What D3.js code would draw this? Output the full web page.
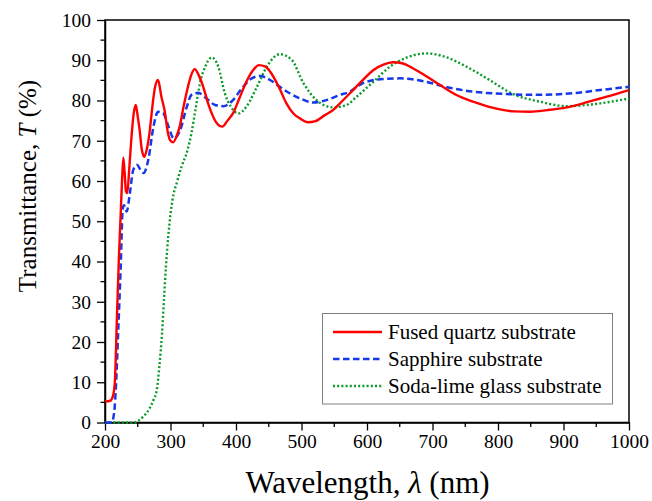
<!DOCTYPE html>
<html><head><meta charset="utf-8">
<script src="https://cdn.jsdelivr.net/npm/d3@7"></script>
<style>body{margin:0;background:#fff;} svg text{font-family:"Liberation Serif","Times New Roman",Times,serif !important;fill:#000;}</style>
</head><body>
<svg id="chart" width="652" height="501"></svg>
<script>
const seriesNames = ["Fused quartz substrate", "Sapphire substrate", "Soda-lime glass substrate"];
const xTicks = [200, 300, 400, 500, 600, 700, 800, 900, 1000];
const yTicks = [0, 10, 20, 30, 40, 50, 60, 70, 80, 90, 100];

const quartzWl = [200,208,212,215,218,221,224,226,228,230,232,234,237,240,244,247,250,253,256,260,264,268,272,276,281,286,291,296,300,304,309,314,320,326,332,337,343,350,357,363,370,379,387,396,405,416,426,435,445,452,465,477,488,498,510,520,535,548,560,574,589,610,625,640,655,670,690,711,735,762,785,803,825,849,875,905,930,956,980,1000];
const quartzT  = [5.2,5.4,6.5,10,25,40,52,60,65.8,62,57.5,57,63,70,77,78.9,76,72.5,68,66,68,72,78,83,85.1,81,77.5,72,70,69.6,71,73.5,78.5,83,86.5,87.8,86.3,83.4,79.5,76.8,74.5,73.5,75,77,80.5,84.7,87.5,88.8,88.4,87.2,83.5,79.3,76.7,75.5,74.6,74.8,76.3,77.6,79.5,81.8,84.3,87.6,88.9,89.5,89.2,88,86.1,83.9,81.5,79.7,78.5,77.8,77.3,77.2,77.6,78.3,79.3,80.5,81.6,82.6];

const sapphireWl = [200,210,214,217,220,224,227,229,233,238,243,249,256,259,266,274,281,289,297,305,314,325,332,342,355,368,381,393,409,424,437,452,467,482,498,518,538,559,574,589,620,650,686,722,762,813,864,915,956,1000];
const sapphireT  = [0,0,2.5,10,22,38.7,53,54,52.4,57,62.7,64,62.3,62,65.2,73.5,77.2,76.8,73.5,70.6,72.3,78.5,81.4,81.9,80.5,78.9,78.6,79.7,83,85.5,86.1,85.1,83.4,81.8,80.5,79.5,80.1,81.4,82.2,83.9,85.3,85.5,84.8,83.3,82.2,81.6,81.4,81.8,82.6,83.4];

const sodaWl = [200,243,258,268,274,279,283,287,290,293,297,303,310,317,326,332,338,345,353,363,373,383,392,404,416,432,447,467,485,503,523,548,569,584,610,635,661,691,722,752,788,823,864,905,956,1000];
const sodaT  = [0,0,1.4,3.5,5.6,8,13.9,22,30.4,38.7,47,55.3,59.8,63.6,67.7,71.9,77.6,84.3,88.4,90.7,88.4,81.8,78.5,76.8,78.5,83.4,88.4,91.5,90.1,84.3,80.1,78.3,78.9,80.9,84.7,88.4,90.7,91.7,90.7,88.4,85,81.6,79.7,78.6,79.3,80.5];

const FONT = "'Liberation Serif', 'Times New Roman', Times, serif";
const svg = d3.select("#chart");
const L = 105, R = 629, T = 20, B = 422.5;
const x = d3.scaleLinear().domain([200, 1000]).range([L, R]);
const y = d3.scaleLinear().domain([0, 100]).range([B, T]);

// frame
svg.append("rect").attr("x", L).attr("y", T).attr("width", R - L).attr("height", B - T)
  .attr("fill", "none").attr("stroke", "#000").attr("stroke-width", 1.5);

// minor ticks
const xMinor = d3.range(250, 1000, 100);
const yMinor = d3.range(5, 100, 10);
svg.append("g").selectAll("line").data(xMinor).join("line")
  .attr("x1", d => x(d)).attr("x2", d => x(d)).attr("y1", B).attr("y2", B + 4.5)
  .attr("stroke", "#000").attr("stroke-width", 1.3);
svg.append("g").selectAll("line").data(yMinor).join("line")
  .attr("x1", L).attr("x2", L - 4.5).attr("y1", d => y(d)).attr("y2", d => y(d))
  .attr("stroke", "#000").attr("stroke-width", 1.3);

// axes
const xAxis = d3.axisBottom(x).tickValues(xTicks).tickFormat(d3.format("d")).tickSize(8).tickSizeOuter(0).tickPadding(4);
const gx = svg.append("g").attr("transform", `translate(0,${B})`).call(xAxis).attr("font-family", FONT);
gx.select(".domain").attr("stroke-width", 1.5);
gx.selectAll(".tick line").attr("stroke-width", 1.3);
gx.selectAll("text").attr("font-family", FONT).style("font-size", "19.5px");

const yAxis = d3.axisLeft(y).tickValues(yTicks).tickFormat(d3.format("d")).tickSize(8).tickSizeOuter(0).tickPadding(6);
const gy = svg.append("g").attr("transform", `translate(${L},0)`).call(yAxis).attr("font-family", FONT);
gy.select(".domain").attr("stroke-width", 1.5);
gy.selectAll(".tick line").attr("stroke-width", 1.3);
gy.selectAll("text").attr("font-family", FONT).style("font-size", "19.5px");

// axis titles
const xt = svg.append("text").attr("x", 367.5).attr("y", 493).attr("text-anchor", "middle")
  .attr("font-family", FONT).style("font-size", "31px");
xt.append("tspan").text("Wavelength, ");
xt.append("tspan").style("font-style", "italic").text("λ");
xt.append("tspan").text(" (nm)");

const yt = svg.append("text").attr("transform", "translate(36,186) rotate(-90)").attr("text-anchor", "middle")
  .attr("font-family", FONT).style("font-size", "25px");
yt.append("tspan").text("Transmittance, ");
yt.append("tspan").style("font-style", "italic").text("T");
yt.append("tspan").text(" (%)");

// lines
const series = [
  {name: seriesNames[0], wl: quartzWl, t: quartzT, color: "#ff0000", dash: null, w: 2.4},
  {name: seriesNames[1], wl: sapphireWl, t: sapphireT, color: "#1538e8", dash: "6.5,3.5", w: 2.5},
  {name: seriesNames[2], wl: sodaWl, t: sodaT, color: "#0a9a2a", dash: "2,2.2", w: 2.4}
];
const line = d3.line().x(d => x(d[0])).y(d => y(d[1])).curve(d3.curveMonotoneX);
svg.append("clipPath").attr("id", "clip").append("rect")
  .attr("x", L).attr("y", T).attr("width", R - L).attr("height", B - T + 2);
const plot = svg.append("g").attr("clip-path", "url(#clip)");
series.slice().reverse().forEach(s => {
  plot.append("path").datum(s.wl.map((w, i) => [w, s.t[i]]))
    .attr("d", line).attr("fill", "none").attr("stroke", s.color)
    .attr("stroke-width", s.w).attr("stroke-dasharray", s.dash);
});

// legend
const lg = svg.append("g");
lg.append("rect").attr("x", 322.5).attr("y", 313.5).attr("width", 290).attr("height", 90.5)
  .attr("fill", "#fff").attr("stroke", "#808080").attr("stroke-width", 1);
series.forEach((s, i) => {
  const cy = 332 + i * 27;
  lg.append("line").attr("x1", 333).attr("x2", 382).attr("y1", cy).attr("y2", cy)
    .attr("stroke", s.color).attr("stroke-width", s.w).attr("stroke-dasharray", s.dash);
  lg.append("text").attr("x", 388).attr("y", cy).attr("dy", "0.33em")
    .attr("font-family", FONT).style("font-size", "21px").text(s.name);
});
</script>
</body></html>
